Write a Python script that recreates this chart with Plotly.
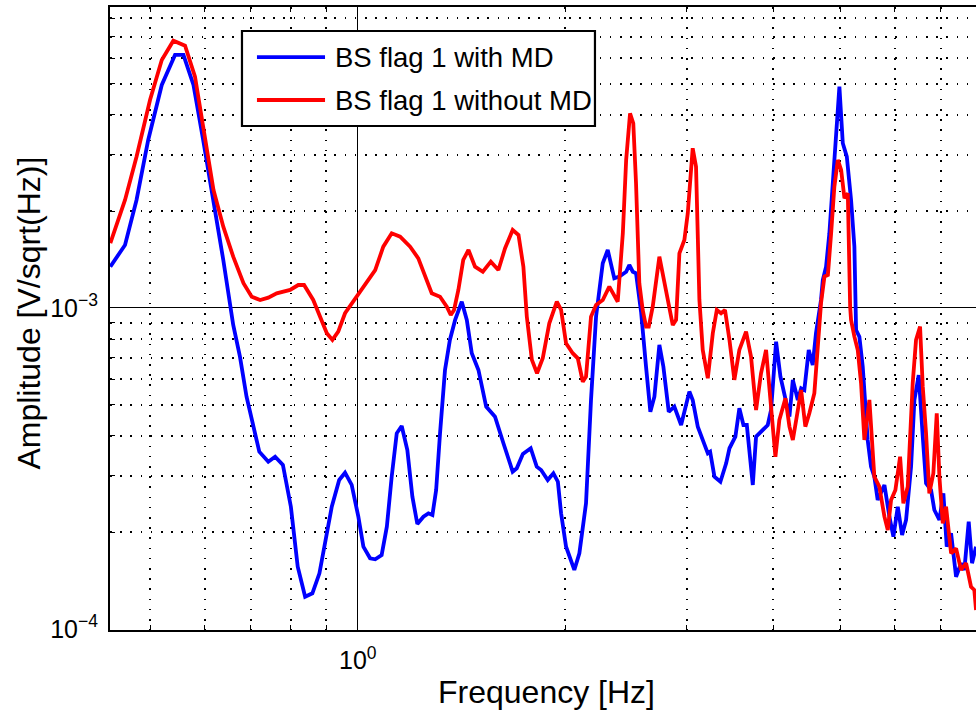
import math
import plotly.graph_objects as go

# ---------------- data ----------------
freq_with_md = [
    0.438, 0.460, 0.478, 0.497, 0.520, 0.5435, 0.559, 0.578, 0.597, 0.618,
    0.6385, 0.660, 0.675, 0.690, 0.706, 0.720, 0.742, 0.759, 0.779, 0.800,
    0.8185, 0.839, 0.8595, 0.880, 0.917, 0.940, 0.9585, 0.980, 1.002, 1.019,
    1.042, 1.060, 1.083, 1.102, 1.120, 1.139, 1.158, 1.180, 1.200, 1.220,
    1.245, 1.266, 1.283, 1.299, 1.316, 1.338, 1.360, 1.384, 1.415, 1.439,
    1.463, 1.496, 1.535, 1.581, 1.626, 1.677, 1.700, 1.735, 1.781, 1.817,
    1.844, 1.885, 1.921, 1.950, 1.971, 2.004, 2.060, 2.095, 2.142, 2.178,
    2.215, 2.265, 2.303, 2.354, 2.394, 2.449, 2.475, 2.504, 2.531, 2.574,
    2.617, 2.655, 2.691, 2.736, 2.773, 2.823, 2.876, 2.942, 3.024, 3.058,
    3.110, 3.162, 3.216, 3.241, 3.288, 3.354, 3.419, 3.457, 3.526, 3.573,
    3.622, 3.663, 3.704, 3.737, 3.778, 3.819, 3.928, 3.972, 4.039, 4.098,
    4.167, 4.223, 4.271, 4.343, 4.391, 4.438, 4.504, 4.564, 4.614, 4.692,
    4.720, 4.772, 4.825, 4.906, 4.989, 5.046, 5.114, 5.187, 5.245, 5.275,
    5.333, 5.393, 5.483, 5.544, 5.606, 5.669, 5.798, 5.895, 5.974, 6.062,
    6.150, 6.232, 6.337, 6.408, 6.501, 6.589, 6.662, 6.774, 6.849, 6.965,
    7.058, 7.138, 7.242, 7.364, 7.487, 7.570, 7.681, 7.767, 7.871,
]
amp_with_md = [
    1.345e-3, 1.571e-3, 2.17e-3, 3.338e-3, 4.95e-3, 6.14e-3, 6.14e-3, 4.95e-3, 3.338e-3, 2.17e-3,
    1.411e-3, 8.85e-4, 7.05e-4, 5.29e-4, 4.27e-4, 3.567e-4, 3.32e-4, 3.44e-4, 3.243e-4, 2.404e-4,
    1.563e-4, 1.26e-4, 1.292e-4, 1.491e-4, 2.404e-4, 2.912e-4, 3.068e-4, 2.81e-4, 2.238e-4, 1.805e-4,
    1.661e-4, 1.649e-4, 1.70e-4, 2.083e-4, 2.982e-4, 4.07e-4, 4.29e-4, 3.61e-4, 2.584e-4, 2.124e-4,
    2.238e-4, 2.293e-4, 2.265e-4, 2.71e-4, 4.07e-4, 6.41e-4, 7.95e-4, 9.18e-4, 1.046e-3, 9.18e-4,
    7.23e-4, 6.41e-4, 4.93e-4, 4.585e-4, 3.79e-4, 3.09e-4, 3.167e-4, 3.51e-4, 3.656e-4, 3.204e-4,
    3.129e-4, 2.912e-4, 3.055e-4, 2.876e-4, 2.293e-4, 1.805e-4, 1.527e-4, 1.721e-4, 2.464e-4, 5.17e-4,
    9.40e-4, 1.378e-3, 1.516e-3, 1.237e-3, 1.252e-3, 1.297e-3, 1.361e-3, 1.297e-3, 1.283e-3, 9.72e-4,
    6.56e-4, 4.75e-4, 5.29e-4, 7.67e-4, 6.56e-4, 4.75e-4, 4.93e-4, 4.32e-4, 5.49e-4, 5.17e-4,
    4.27e-4, 3.88e-4, 3.526e-4, 3.567e-4, 2.982e-4, 2.876e-4, 3.282e-4, 3.656e-4, 3.972e-4, 4.87e-4,
    4.32e-4, 4.32e-4, 3.44e-4, 2.81e-4, 3.972e-4, 4.07e-4, 4.32e-4, 4.81e-4, 7.85e-4, 6.11e-4,
    5.29e-4, 4.585e-4, 5.97e-4, 5.17e-4, 5.62e-4, 5.55e-4, 7.40e-4, 6.64e-4, 8.34e-4, 1.059e-3,
    1.222e-3, 1.345e-3, 1.709e-3, 3.033e-3, 4.89e-3, 3.259e-3, 2.96e-3, 2.17e-3, 1.552e-3, 8.54e-4,
    8.14e-4, 6.56e-4, 3.88e-4, 3.204e-4, 2.982e-4, 2.523e-4, 2.81e-4, 2.238e-4, 1.939e-4, 2.404e-4,
    1.963e-4, 2.186e-4, 3.204e-4, 5.17e-4, 6.18e-4, 3.972e-4, 2.843e-4, 2.71e-4, 2.348e-4, 2.186e-4,
    2.647e-4, 1.805e-4, 1.987e-4, 1.455e-4, 1.603e-4, 1.527e-4, 2.16e-4, 1.603e-4, 1.805e-4,
]

freq_without_md = [
    0.438, 0.460, 0.478, 0.500, 0.520, 0.5405, 0.562, 0.581, 0.597, 0.618,
    0.6385, 0.660, 0.683, 0.702, 0.722, 0.742, 0.763, 0.798, 0.820, 0.836,
    0.862, 0.882, 0.902, 0.919, 0.937, 0.9585, 0.985, 1.002, 1.030, 1.060,
    1.089, 1.120, 1.152, 1.191, 1.224, 1.252, 1.280, 1.316, 1.346, 1.364,
    1.379, 1.399, 1.422, 1.447, 1.479, 1.518, 1.559, 1.599, 1.635, 1.677,
    1.710, 1.738, 1.758, 1.788, 1.819, 1.854, 1.895, 1.943, 1.971, 2.004,
    2.049, 2.084, 2.119, 2.142, 2.178, 2.215, 2.265, 2.315, 2.381, 2.422,
    2.449, 2.481, 2.508, 2.531, 2.559, 2.588, 2.617, 2.641, 2.676, 2.736,
    2.798, 2.861, 2.893, 2.925, 2.974, 3.008, 3.058, 3.092, 3.127, 3.162,
    3.216, 3.270, 3.314, 3.361, 3.406, 3.457, 3.514, 3.573, 3.654, 3.715,
    3.778, 3.841, 3.906, 3.972, 4.030, 4.083, 4.167, 4.223, 4.271, 4.327,
    4.391, 4.453, 4.513, 4.589, 4.642, 4.692, 4.746, 4.801, 4.853, 4.906,
    4.963, 5.018, 5.074, 5.131, 5.171, 5.187, 5.245, 5.304, 5.363, 5.423,
    5.514, 5.606, 5.700, 5.798, 5.863, 5.928, 6.014, 6.109, 6.176, 6.267,
    6.372, 6.443, 6.530, 6.589, 6.662, 6.735, 6.826, 6.904, 6.965, 7.044,
    7.122, 7.242, 7.364, 7.487, 7.614, 7.740, 7.826, 7.871,
]
amp_without_md = [
    1.591e-3, 2.17e-3, 2.96e-3, 4.446e-3, 5.925e-3, 6.80e-3, 6.56e-3, 5.255e-3, 3.672e-3, 2.331e-3,
    1.792e-3, 1.445e-3, 1.194e-3, 1.084e-3, 1.059e-3, 1.077e-3, 1.111e-3, 1.138e-3, 1.179e-3, 1.179e-3,
    1.059e-3, 9.40e-4, 8.34e-4, 7.95e-4, 8.44e-4, 9.63e-4, 1.046e-3, 1.111e-3, 1.194e-3, 1.313e-3,
    1.552e-3, 1.709e-3, 1.668e-3, 1.552e-3, 1.428e-3, 1.252e-3, 1.111e-3, 1.084e-3, 1.009e-3, 9.51e-4,
    9.86e-4, 1.138e-3, 1.411e-3, 1.516e-3, 1.345e-3, 1.297e-3, 1.394e-3, 1.313e-3, 1.535e-3, 1.750e-3,
    1.688e-3, 1.345e-3, 9.40e-4, 6.89e-4, 6.26e-4, 6.97e-4, 8.96e-4, 1.046e-3, 9.86e-4, 7.76e-4,
    7.23e-4, 6.97e-4, 5.89e-4, 6.11e-4, 9.40e-4, 1.022e-3, 1.059e-3, 1.165e-3, 1.046e-3, 1.709e-3,
    2.891e-3, 4.04e-3, 3.762e-3, 2.446e-3, 1.194e-3, 9.86e-4, 8.746e-4, 8.746e-4, 1.009e-3, 1.445e-3,
    1.138e-3, 8.85e-4, 9.18e-4, 1.48e-3, 1.628e-3, 1.972e-3, 3.145e-3, 2.755e-3, 1.059e-3, 7.40e-4,
    6.04e-4, 8.34e-4, 9.86e-4, 9.63e-4, 9.86e-4, 7.95e-4, 5.97e-4, 7.40e-4, 8.44e-4, 7.05e-4,
    4.81e-4, 6.26e-4, 7.40e-4, 4.93e-4, 3.44e-4, 4.478e-4, 5.233e-4, 4.27e-4, 3.88e-4, 4.585e-4,
    5.55e-4, 4.27e-4, 4.70e-4, 5.425e-4, 7.95e-4, 1.034e-3, 1.252e-3, 1.267e-3, 1.709e-3, 2.387e-3,
    2.891e-3, 2.691e-3, 2.196e-3, 2.277e-3, 1.009e-3, 9.18e-4, 8.14e-4, 7.40e-4, 5.83e-4, 3.88e-4,
    5.17e-4, 2.982e-4, 2.776e-4, 2.238e-4, 2.034e-4, 2.523e-4, 2.71e-4, 3.44e-4, 2.464e-4, 2.776e-4,
    5.83e-4, 7.95e-4, 8.746e-4, 5.685e-4, 4.07e-4, 2.647e-4, 3.055e-4, 4.70e-4, 2.982e-4, 2.135e-4,
    2.404e-4, 1.721e-4, 1.784e-4, 1.527e-4, 1.603e-4, 1.354e-4, 1.323e-4, 1.146e-4,
]

series_names = ["BS flag 1 with MD", "BS flag 1 without MD"]
series_colors = ["#0000ff", "#ff0000"]

x_major_ticks = [1.0]
x_major_text = ["10<sup>0</sup>"]
x_minor_ticks = [0.5, 0.6, 0.7, 0.8, 0.9, 2, 3, 4, 5, 6, 7]
y_major_ticks = [1e-4, 1e-3]
y_major_text = ["10<sup>\u22124</sup>", "10<sup>\u22123</sup>"]
y_minor_ticks = [2e-4, 3e-4, 4e-4, 5e-4, 6e-4, 7e-4, 8e-4, 9e-4,
                 2e-3, 3e-3, 4e-3, 5e-3, 6e-3, 7e-3, 8e-3, 9e-3]

x_range = [0.4375, 7.87]
y_range = [0.9929e-4, 8.66e-3]

FONT = "Liberation Sans, Arial, Helvetica, sans-serif"

# ---------------- figure ----------------
fig = go.Figure()
fig.add_trace(go.Scatter(x=freq_with_md, y=amp_with_md, mode="lines",
                         name=series_names[0],
                         line=dict(color=series_colors[0], width=3.8)))
fig.add_trace(go.Scatter(x=freq_without_md, y=amp_without_md, mode="lines",
                         name=series_names[1],
                         line=dict(color=series_colors[1], width=3.8)))

minor_common = dict(showgrid=True, gridcolor="#000000", gridwidth=1.6,
                    griddash="1.6px,8.6px", ticks="inside", ticklen=5,
                    tickcolor="#000000", tickwidth=1, tickmode="array")

fig.update_xaxes(
    type="log", range=[math.log10(v) for v in x_range],
    tickmode="array", tickvals=x_major_ticks, ticktext=x_major_text,
    ticks="inside", ticklen=8, tickwidth=1, tickcolor="#000000",
    showgrid=True, gridcolor="#000000", gridwidth=1.2,
    showline=True, linecolor="#000000", linewidth=2.2, mirror="allticks",
    tickfont=dict(family=FONT, size=25, color="#000000"),
    ticklabelstandoff=7,
    minor=dict(tickvals=x_minor_ticks, **minor_common),
    zeroline=False, automargin=False,
)
fig.update_yaxes(
    type="log", range=[math.log10(v) for v in y_range],
    tickmode="array", tickvals=y_major_ticks, ticktext=y_major_text,
    ticks="inside", ticklen=8, tickwidth=1, tickcolor="#000000",
    showgrid=True, gridcolor="#000000", gridwidth=1.2,
    showline=True, linecolor="#000000", linewidth=2.2, mirror=False,
    tickfont=dict(family=FONT, size=25, color="#000000"),
    ticklabelstandoff=5,
    minor=dict(tickvals=y_minor_ticks, **minor_common),
    zeroline=False, automargin=False,
)

# legend drawn as a boxed key in paper coordinates (long line samples as in the original)
lg_x0, lg_x1, lg_y0, lg_y1 = 0.1524, 0.5600, 0.809, 0.9615
line_x0, line_x1, text_x = 0.1697, 0.2483, 0.2575
row_y = [0.9197, 0.8507]
shapes = [dict(type="rect", xref="paper", yref="paper", x0=lg_x0, x1=lg_x1,
               y0=lg_y0, y1=lg_y1, line=dict(color="#000000", width=2.2),
               fillcolor="#ffffff", layer="above")]
annotations = []
for name, color, yy in zip(series_names, series_colors, row_y):
    shapes.append(dict(type="line", xref="paper", yref="paper", x0=line_x0,
                       x1=line_x1, y0=yy, y1=yy, layer="above",
                       line=dict(color=color, width=3.8)))
    annotations.append(dict(xref="paper", yref="paper", x=text_x, y=yy,
                            xanchor="left", yanchor="middle", showarrow=False,
                            text=name, font=dict(family=FONT, size=27.5, color="#000000")))

annotations.append(dict(xref="paper", yref="paper", x=0.5046, y=-0.1, xanchor="center",
                        yanchor="middle", showarrow=False, text="Frequency [Hz]",
                        font=dict(family=FONT, size=32, color="#000000")))
annotations.append(dict(xref="paper", yref="paper", x=-0.094, y=0.5088, xanchor="center",
                        yanchor="middle", showarrow=False, textangle=-90,
                        text="Amplitude [V/sqrt(Hz)]",
                        font=dict(family=FONT, size=32, color="#000000")))

fig.update_layout(
    width=976, height=713,
    margin=dict(l=110, r=0, t=7, b=83, pad=0),
    paper_bgcolor="#ffffff", plot_bgcolor="#ffffff",
    showlegend=False,
    shapes=shapes, annotations=annotations,
    font=dict(family=FONT, color="#000000"),
)

# remove the browser's default 8px page margin so the figure starts at the window corner
fig.write_html("out.html",
               config={"displayModeBar": False},
               post_script="document.body.style.margin='0';document.body.style.overflow='hidden';")
